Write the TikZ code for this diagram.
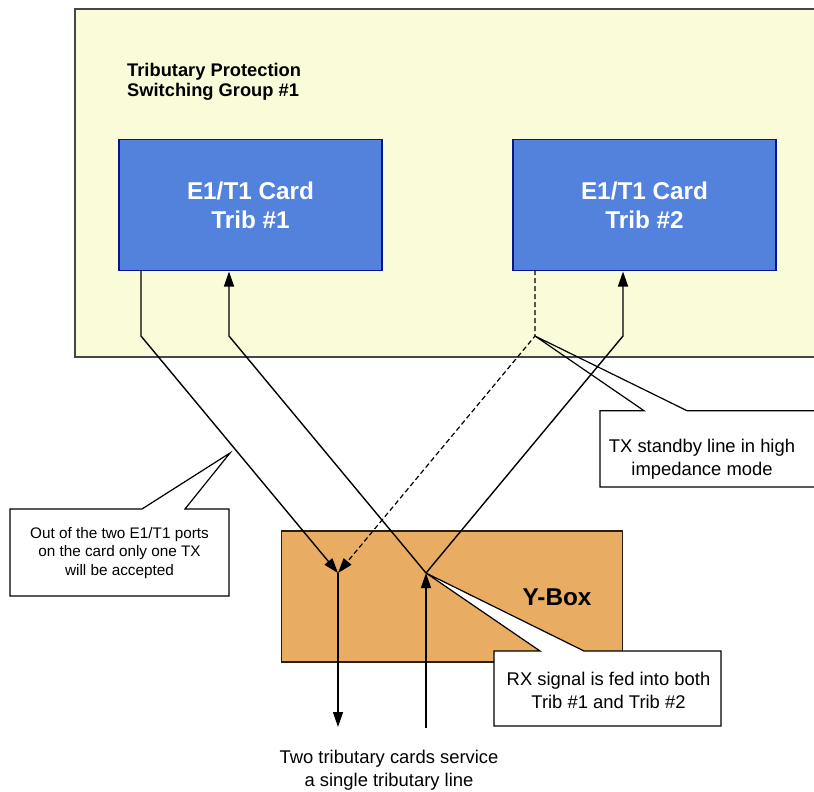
\documentclass[tikz,border=0pt]{standalone}
\usepackage{fontspec}
\setmainfont{Liberation Sans}
\usetikzlibrary{arrows.meta}
\definecolor{grpfill}{RGB}{250,252,217}
\definecolor{grpline}{RGB}{70,70,70}
\definecolor{cardfill}{RGB}{82,130,220}
\definecolor{cardline}{RGB}{10,20,140}
\definecolor{yfill}{RGB}{232,172,98}
\definecolor{yline}{RGB}{40,30,20}
\begin{document}
\begin{tikzpicture}[x=1pt,y=-1pt,
  card/.style={draw=cardline, line width=1.5pt, fill=cardfill, minimum width=263pt, minimum height=131pt, inner sep=0pt, text=white, font=\fontsize{24.3}{29}\selectfont\bfseries, align=center},
  ybox/.style={draw=yline, line width=1.5pt, fill=yfill, minimum width=341pt, minimum height=131pt, inner sep=0pt},
  sig/.style={line width=1.4pt, line join=miter},
  tipend/.style={-{Triangle[length=15pt,width=10pt]}},
  dashsig/.style={line width=1.2pt, dash pattern=on 5pt off 3pt},
  callout/.style={draw=black, line width=1.2pt, line join=miter},
  ctext/.style={font=\fontsize{18.4}{22.5}\selectfont, align=center, inner sep=0pt},
  stext/.style={font=\fontsize{15.3}{18.5}\selectfont, align=center, inner sep=0pt},
  btext/.style={font=\fontsize{24.3}{29}\selectfont\bfseries, inner sep=0pt}]
\useasboundingbox (0,0) rectangle (814,792);
\begin{scope}
\clip (0,0) rectangle (814,792);
\fill[white] (0,0) rectangle (814,792);
% group area
\draw[fill=grpfill, draw=grpline, line width=1.3pt] (75,9) rectangle (840,357);
\node[font=\fontsize{18.3}{20.5}\selectfont\bfseries, align=left, anchor=north west, inner sep=0pt] (title) at (127,63) {Tributary Protection\\Switching Group \#1};
% cards
\node[card] (t1) at (250.5,205) {E1/T1 Card\\Trib \#1};
\node[card] (t2) at (644.5,205) {E1/T1 Card\\Trib \#2};
% Y-box
\node[ybox] (yb) at (452,596.5) {};
\node[btext] (ylabel) at (557,597) {Y-Box};
% coordinates
\coordinate (t1tx) at (141,270);
\coordinate (t1rx) at (229,271.5);
\coordinate (t2tx) at (535,270);
\coordinate (t2rx) at (623,271.5);
\coordinate (b1) at (141,336);
\coordinate (b2) at (229,336);
\coordinate (b3) at (535,336);
\coordinate (b4) at (623,336);
\coordinate (m) at (338,573);
\coordinate (f) at (426,573);
\coordinate (outE) at (338,727);
\coordinate (inE) at (426,728);
% signal lines
\draw[sig,tipend] (t1tx) -- (b1) -- (m);
\draw[dashsig,tipend] (t2tx) -- (b3) -- (m);
\draw[sig,tipend] (m) -- (outE);
\draw[sig,tipend] (inE) -- (f);
\draw[sig,tipend] (f) -- (b2) -- (t1rx);
\draw[sig,tipend] (f) -- (b4) -- (t2rx);
% callouts
\draw[callout] (600,410.7) -- (644,410.7) -- (b3) -- (687,410.7) -- (840,410.7) -- (840,487) -- (600,487) -- cycle;
\node[ctext] (txlbl) at (702,459) {TX standby line in high\\impedance mode};
\coordinate (ltip) at (230,453);
\draw[callout, fill=white] (10,509) -- (142,509) -- (ltip) -- (185,509) -- (229,509) -- (229,596) -- (10,596) -- cycle;
\node[stext] (oneTX) at (119.5,553) {Out of the two E1/T1 ports\\on the card only one TX\\will be accepted};
\draw[callout, fill=white] (494,651) -- (540,651) -- (f) -- (584,651) -- (721,651) -- (721,726) -- (494,726) -- cycle;
\node[ctext] (rxlbl) at (608.5,690.5) {RX signal is fed into both\\Trib \#1 and Trib \#2};
% bottom text
\node[ctext] (bottom) at (389,770) {Two tributary cards service\\a single tributary line};
\end{scope}
\end{tikzpicture}
\end{document}
